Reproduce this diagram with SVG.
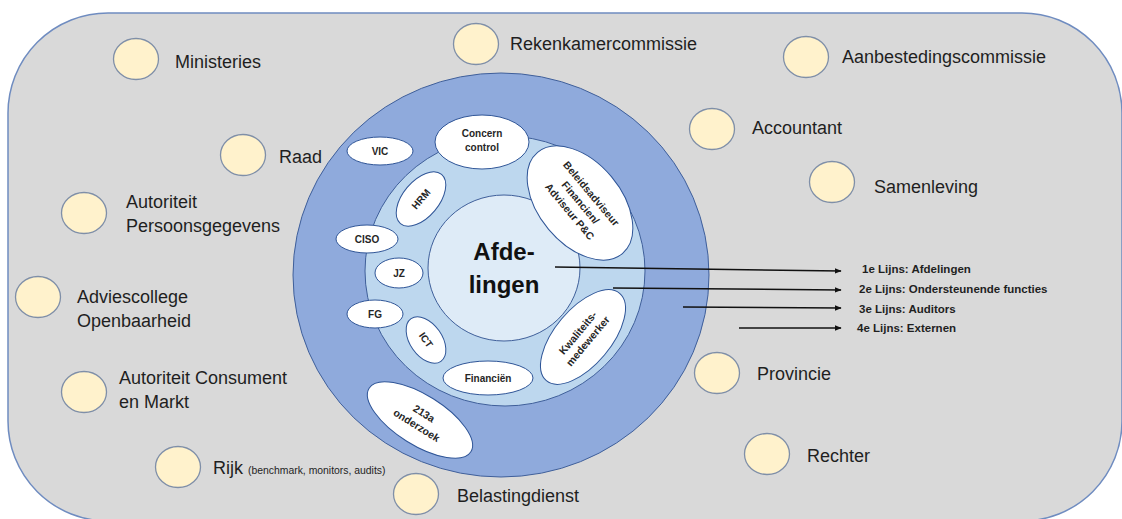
<svg xmlns="http://www.w3.org/2000/svg" width="1122" height="519" viewBox="0 0 1122 519">
<style>
.bg{fill:#d9d9d9;stroke:#6f8cc0;stroke-width:1.5}
.dot{fill:#fff2cc;stroke:#7f8fa8;stroke-width:1.3}
.lbl{font-family:"Liberation Sans",Arial,sans-serif;font-size:18px;fill:#1f1f1f}
.sm{font-size:10.4px}
.ring1{fill:#8faadc;stroke:#3f5f9a;stroke-width:1}
.ring2{fill:#bdd7ee;stroke:#3f5f9a;stroke-width:1}
.core{fill:#deebf7;stroke:#3f5f9a;stroke-width:1}
.unit{fill:#ffffff;stroke:#2f5597;stroke-width:1}
.ut{font-family:"Liberation Sans",Arial,sans-serif;font-size:10px;font-weight:bold;fill:#262626;text-anchor:middle}
.ut2{font-size:10.5px}
.big{font-family:"Liberation Sans",Arial,sans-serif;font-size:24px;font-weight:bold;fill:#111;text-anchor:middle}
.conn{stroke:#111;stroke-width:1.5;fill:none;marker-end:url(#ah)}
.lt{font-family:"Liberation Sans",Arial,sans-serif;font-size:11.5px;font-weight:bold;fill:#1f1f1f}
</style>
<defs>
<marker id="ah" viewBox="0 0 10 8" refX="9" refY="4" markerWidth="7" markerHeight="5.6" orient="auto" markerUnits="userSpaceOnUse">
<path d="M0,0 L10,4 L0,8 Z" fill="#111"/>
</marker>
</defs>
<rect class="bg" x="8" y="13" width="1114" height="508" rx="100" ry="100"/>

<g id="ministeries"><ellipse class="dot" cx="136" cy="59" rx="22.5" ry="20.5"/><text class="lbl" x="175" y="68">Ministeries</text></g>
<g id="raad"><ellipse class="dot" cx="243" cy="155" rx="22.5" ry="20.5"/><text class="lbl" x="279" y="163">Raad</text></g>
<g id="rekenkamercommissie"><ellipse class="dot" cx="476" cy="44" rx="22.5" ry="20.5"/><text class="lbl" x="510" y="50">Rekenkamercommissie</text></g>
<g id="aanbestedingscommissie"><ellipse class="dot" cx="806" cy="57" rx="22.5" ry="20.5"/><text class="lbl" x="842" y="63">Aanbestedingscommissie</text></g>
<g id="accountant"><ellipse class="dot" cx="712" cy="129" rx="22.5" ry="20.5"/><text class="lbl" x="752" y="134">Accountant</text></g>
<g id="samenleving"><ellipse class="dot" cx="832" cy="182" rx="22.5" ry="20.5"/><text class="lbl" x="874" y="193">Samenleving</text></g>
<g id="autoriteit-persoonsgegevens"><ellipse class="dot" cx="84" cy="213" rx="22.5" ry="20.5"/><text class="lbl" x="126" y="208">Autoriteit</text><text class="lbl" x="126" y="232">Persoonsgegevens</text></g>
<g id="adviescollege"><ellipse class="dot" cx="38" cy="297" rx="22.5" ry="20.5"/><text class="lbl" x="77" y="303">Adviescollege</text><text class="lbl" x="77" y="327">Openbaarheid</text></g>
<g id="acm"><ellipse class="dot" cx="84" cy="392" rx="22.5" ry="20.5"/><text class="lbl" x="119" y="384">Autoriteit Consument</text><text class="lbl" x="119" y="408">en Markt</text></g>
<g id="rijk"><ellipse class="dot" cx="178" cy="467" rx="22.5" ry="20.5"/><text class="lbl" x="213" y="474">Rijk <tspan class="sm">(benchmark, monitors, audits)</tspan></text></g>
<g id="belastingdienst"><ellipse class="dot" cx="416" cy="494" rx="22.5" ry="20.5"/><text class="lbl" x="457" y="502">Belastingdienst</text></g>
<g id="provincie"><ellipse class="dot" cx="717" cy="373" rx="22.5" ry="20.5"/><text class="lbl" x="757" y="380">Provincie</text></g>
<g id="rechter"><ellipse class="dot" cx="767" cy="454" rx="22.5" ry="20.5"/><text class="lbl" x="807" y="462">Rechter</text></g>

<g id="ring-outer"><ellipse class="ring1" cx="501" cy="275" rx="208" ry="202"/></g>
<g id="ring-inner"><ellipse class="ring2" cx="505" cy="271" rx="140" ry="135"/></g>
<g id="afdelingen"><ellipse class="core" cx="504" cy="268" rx="76" ry="73"/><text class="big" x="504" y="260">Afde-</text><text class="big" x="504" y="293">lingen</text></g>

<g id="vic"><ellipse class="unit" cx="380" cy="151" rx="33" ry="14"/><text class="ut" x="380" y="155">VIC</text></g>
<g id="concern-control"><ellipse class="unit" cx="482" cy="142" rx="47" ry="27"/><text class="ut" x="482" y="137">Concern</text><text class="ut" x="482" y="151">control</text></g>
<g id="beleidsadviseur" transform="rotate(50 580 203)"><ellipse class="unit" cx="580" cy="203" rx="66" ry="41"/><text class="ut ut2" x="580" y="192">Beleidsadviseur</text><text class="ut ut2" x="580" y="206">Financien/</text><text class="ut ut2" x="580" y="220">Adviseur P&amp;C</text></g>
<g id="hrm" transform="rotate(-50 421 199)"><ellipse class="unit" cx="421" cy="199" rx="32" ry="18"/><text class="ut" x="421" y="202.5">HRM</text></g>
<g id="ciso"><ellipse class="unit" cx="367" cy="239" rx="31" ry="14"/><text class="ut" x="367" y="242.5">CISO</text></g>
<g id="jz"><ellipse class="unit" cx="399" cy="273" rx="24" ry="15"/><text class="ut" x="399" y="276.5">JZ</text></g>
<g id="fg"><ellipse class="unit" cx="375" cy="314" rx="28" ry="14"/><text class="ut" x="375" y="317.5">FG</text></g>
<g id="ict" transform="rotate(55 426 340)"><ellipse class="unit" cx="426" cy="340" rx="26" ry="16"/><text class="ut" x="426" y="343.5">ICT</text></g>
<g id="financien"><ellipse class="unit" cx="488" cy="378" rx="45" ry="17"/><text class="ut" x="488" y="382">Financiën</text></g>
<g id="kwaliteitsmedewerker" transform="rotate(-50 583 337)"><ellipse class="unit" cx="583" cy="337" rx="57" ry="28"/><text class="ut ut2" x="583" y="334">Kwaliteits-</text><text class="ut ut2" x="583" y="347">medewerker</text></g>
<g id="onderzoek-213a" transform="rotate(32 420 420)"><ellipse class="unit" cx="420" cy="420" rx="60" ry="25"/><text class="ut ut2" x="420" y="416">213a</text><text class="ut ut2" x="420" y="430">onderzoek</text></g>

<g id="connectors">
<line class="conn" x1="555" y1="267" x2="841" y2="271"/>
<line class="conn" x1="613" y1="288" x2="841" y2="290"/>
<line class="conn" x1="683" y1="307" x2="841" y2="308"/>
<line class="conn" x1="739" y1="328" x2="841" y2="328"/>
</g>
<g id="legend">
<text class="lt" x="862" y="273">1e Lijns: Afdelingen</text>
<text class="lt" x="859" y="293">2e Lijns: Ondersteunende functies</text>
<text class="lt" x="859" y="313">3e Lijns: Auditors</text>
<text class="lt" x="857" y="332">4e Lijns: Externen</text>
</g>
</svg>
